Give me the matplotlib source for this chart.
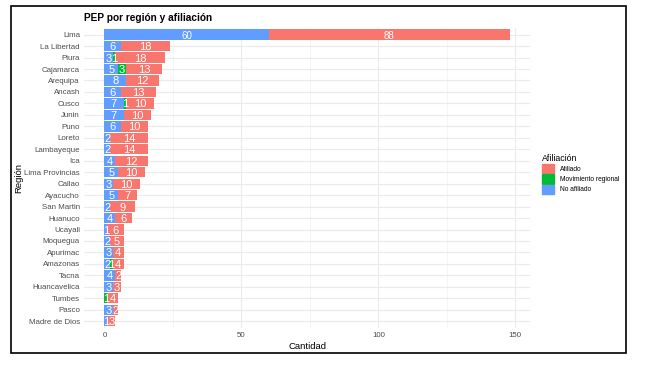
import numpy as np
import matplotlib.pyplot as plt
import matplotlib as mpl
from matplotlib.patches import Rectangle, Patch

mpl.rc('font', family=['Liberation Sans', 'DejaVu Sans'])

# data (top to bottom)
regiones = ['Lima', 'La Libertad', 'Piura', 'Cajamarca', 'Arequipa', 'Ancash', 'Cusco',
            'Junin', 'Puno', 'Loreto', 'Lambayeque', 'Ica', 'Lima Provincias', 'Callao',
            'Ayacucho', 'San Martin', 'Huanuco', 'Ucayali', 'Moquegua', 'Apurimac',
            'Amazonas', 'Tacna', 'Huancavelica', 'Tumbes', 'Pasco', 'Madre de Dios']
no_afiliado = [60, 6, 3, 5, 8, 6, 7, 7, 6, 2, 2, 4, 5, 3, 5, 2, 4, 1, 2, 3, 2, 4, 3, 0, 3, 1]
mov_regional = [0, 0, 1, 3, 0, 0, 1, 0, 0, 0, 0, 0, 0, 0, 0, 0, 0, 0, 0, 0, 1, 0, 0, 1, 0, 0]
afiliado = [88, 18, 18, 13, 12, 13, 10, 10, 10, 14, 14, 12, 10, 10, 7, 9, 6, 6, 5, 4, 4, 2, 3, 4, 2, 3]

c_afil = '#F8766D'
c_mov = '#00BA38'
c_no = '#619CFF'

fig = plt.figure(figsize=(6.52, 3.65), dpi=100)
ax = fig.add_axes([0.129, 0.101, 0.684, 0.823])

n = len(regiones)
y = np.arange(n)[::-1]
no = np.array(no_afiliado)
mov = np.array(mov_regional)
af = np.array(afiliado)

ax.barh(y, no, height=0.9, color=c_no, zorder=2)
ax.barh(y, mov, left=no, height=0.9, color=c_mov, zorder=2)
ax.barh(y, af, left=no + mov, height=0.9, color=c_afil, zorder=2)

for yi, a, b, c in zip(y, no, mov, af):
    for left, val in [(0, a), (a, b), (a + b, c)]:
        if val > 0:
            fs = 7 if yi == n - 1 else 8
            ax.text(left + val / 2, yi, str(val), color='white', ha='center',
                    va='center_baseline', fontsize=fs, zorder=3)

ax.set_xlim(-7.4, 155.4)
ax.set_ylim(-0.6, n - 0.4)
ax.set_yticks(y)
ax.set_yticklabels(regiones)
ax.set_xticks([0, 50, 100, 150])
ax.set_xticks([25, 75, 125], minor=True)
ax.tick_params(axis='both', which='both', length=0, labelsize=5.7, colors='#4D4D4D', pad=3)
ax.grid(True, which='major', color='#EBEBEB', linewidth=0.8, zorder=0)
ax.grid(True, which='minor', axis='x', color='#F2F2F2', linewidth=0.5, zorder=0)
for s in ax.spines.values():
    s.set_visible(False)

ax.set_xlabel('Cantidad', fontsize=6.8, labelpad=2)
ax.set_ylabel('Región', fontsize=6.8)
ax.yaxis.set_label_coords(-0.137, 0.5)
ax.set_title('PEP por región y afiliación', fontsize=7.3, fontweight='bold', loc='left', pad=5)

handles = [Patch(color=c_afil), Patch(color=c_mov), Patch(color=c_no)]
leg = fig.legend(handles, ['Afiliado', 'Movimiento regional', 'No afiliado'], title='Afiliación',
                 loc='upper left', bbox_to_anchor=(0.827, 0.585), frameon=False, fontsize=4.8,
                 title_fontsize=6.3, handlelength=1.75, handleheight=1.75, handletextpad=0.9,
                 labelspacing=0.15, borderaxespad=0)
leg._legend_box.align = 'left'

# black frame around the figure
fig.patches.append(Rectangle((11 / 652, 1 - 353 / 365), 615 / 652, 347 / 365, transform=fig.transFigure,
                             fill=False, edgecolor='black', linewidth=1.2))

fig.savefig('out.png', dpi=100)
